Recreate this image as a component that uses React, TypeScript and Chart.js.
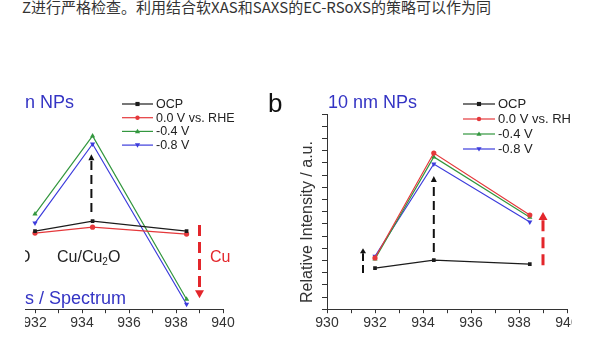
import React, { useEffect, useRef } from 'react';
import { Chart, registerables } from 'chart.js';

Chart.register(...registerables);

const FONT = 'Arial, "Liberation Sans", Helvetica, sans-serif';

// ---- data ----
const energies = [932, 934.45, 938.45];
const seriesLabels = ['OCP', '0.0 V vs. RHE', '-0.4 V', '-0.8 V'];

const aOCP = [3.2, 3.61, 3.2];
const a00V = [3.12, 3.36, 3.08];
const a04V = [3.9, 7.1, 0.41];
const a08V = [3.53, 6.77, 0.2];

const bOCP = [1.68, 2.01, 1.85];
const b00V = [2.1, 6.4, 3.86];
const b04V = [2.06, 6.24, 3.77];
const b08V = [2.17, 5.95, 3.57];

const xMin = 930;
const xMax = 940;
const xLabeled = [930, 932, 934, 936, 938, 940];
const yMin = 0;
const yMax = 8;

// annotation arrows (data coordinates)
const arrowXA = [934.4, 939.0];
const arrowFromA = [3.98, 3.45];
const arrowToA = [6.35, 0.45];
const arrowKindA = ['black', 'red'];

const arrowXB = [931.5, 934.45, 939.0];
const arrowFromB = [1.48, 2.34, 1.8];
const arrowToB = [2.5, 5.46, 3.98];
const arrowKindB = ['blackSmall', 'black', 'red'];

// ---- styles ----
const seriesColors = ['#1c1c1c', '#e5383b', '#33973f', '#3c3cdc'];
const seriesPoint = ['rect', 'circle', 'triangle', 'triangle'];
const seriesRot = [0, 0, 0, 180];
const arrowStyles: Record<string, any> = {
  black: { color: '#111', width: 2, dash: [9, 5], head: 6, half: 3 },
  blackSmall: { color: '#111', width: 2, dash: [8, 4], head: 5, half: 3 },
  red: { color: '#e3262b', width: 3, dash: [11, 6], head: 8, half: 4.5 },
};
const BLUE = '#3434c4';

function drawMarker(ctx: CanvasRenderingContext2D, style: string, rot: number, x: number, y: number, r: number, color: string) {
  ctx.fillStyle = color;
  ctx.beginPath();
  if (style === 'rect') {
    ctx.rect(x - r * 0.8, y - r * 0.8, r * 1.6, r * 1.6);
  } else if (style === 'circle') {
    ctx.arc(x, y, r * 0.85, 0, Math.PI * 2);
  } else {
    const s = rot === 180 ? -1 : 1;
    ctx.moveTo(x, y - s * r);
    ctx.lineTo(x - r, y + s * r * 0.7);
    ctx.lineTo(x + r, y + s * r * 0.7);
    ctx.closePath();
  }
  ctx.fill();
}

const lineLegendPlugin = {
  id: 'lineLegend',
  afterDraw(chart: any, _args: any, opts: any) {
    if (!opts || opts.x1 === undefined) return;
    const ctx = chart.ctx as CanvasRenderingContext2D;
    ctx.save();
    chart.data.datasets.forEach((ds: any, i: number) => {
      const y = opts.y0 + i * opts.dy;
      ctx.strokeStyle = ds.borderColor;
      ctx.lineWidth = 1.2;
      ctx.beginPath();
      ctx.moveTo(opts.x1, y);
      ctx.lineTo(opts.x2, y);
      ctx.stroke();
      drawMarker(ctx, ds.pointStyle, ds.pointRotation, (opts.x1 + opts.x2) / 2, y, 2.6, ds.borderColor);
      ctx.fillStyle = '#222';
      ctx.font = opts.font;
      ctx.textBaseline = 'middle';
      ctx.textAlign = 'left';
      ctx.fillText(ds.label, opts.x2 + 3, y + 0.5);
    });
    ctx.restore();
  },
};

const arrowPlugin = {
  id: 'arrows',
  afterDatasetsDraw(chart: any, _args: any, opts: any) {
    if (!opts || !opts.xs) return;
    const ctx = chart.ctx as CanvasRenderingContext2D;
    const xs = chart.scales.x;
    const ys = chart.scales.y;
    ctx.save();
    opts.xs.forEach((xv: number, i: number) => {
      const st = arrowStyles[opts.kinds[i]];
      const px = xs.getPixelForValue(xv);
      const p0 = ys.getPixelForValue(opts.from[i]);
      const p1 = ys.getPixelForValue(opts.to[i]);
      const dir = Math.sign(p1 - p0);
      const base = p1 - dir * st.head;
      ctx.strokeStyle = st.color;
      ctx.lineWidth = st.width;
      ctx.setLineDash(st.dash);
      ctx.beginPath();
      ctx.moveTo(px, p0);
      ctx.lineTo(px, base);
      ctx.stroke();
      ctx.setLineDash([]);
      ctx.fillStyle = st.color;
      ctx.beginPath();
      ctx.moveTo(px, p1);
      ctx.lineTo(px - st.half, base);
      ctx.lineTo(px + st.half, base);
      ctx.closePath();
      ctx.fill();
    });
    ctx.restore();
  },
};

function makeDatasets(series: number[][]) {
  return series.map((vals, i) => ({
    label: seriesLabels[i],
    data: energies.map((e, k) => ({ x: e, y: vals[k] })),
    borderColor: seriesColors[i],
    backgroundColor: seriesColors[i],
    borderWidth: 1.2,
    pointStyle: seriesPoint[i],
    pointRotation: seriesRot[i],
    pointRadius: seriesPoint[i] === 'triangle' ? 3 : 2.6,
    pointBorderWidth: 0,
    tension: 0,
  }));
}

function xScale() {
  return {
    type: 'linear',
    min: xMin,
    max: xMax,
    ticks: {
      stepSize: 1,
      autoSkip: false,
      maxRotation: 0,
      padding: 2,
      color: '#333',
      font: { family: FONT, size: 14 },
      callback: (v: any) => (xLabeled.includes(Math.round(v)) && Math.abs(v - Math.round(v)) < 1e-6 ? String(Math.round(v)) : ''),
    },
    grid: { drawOnChartArea: false, drawTicks: true, tickLength: 4, tickColor: '#333', tickWidth: 1 },
    border: { display: true, color: '#333', width: 1 },
  };
}

export default function App() {
  const refA = useRef<HTMLCanvasElement>(null);
  const refB = useRef<HTMLCanvasElement>(null);

  useEffect(() => {
    const chartA = new Chart(refA.current as HTMLCanvasElement, {
      type: 'line',
      data: { datasets: makeDatasets([aOCP, a00V, a04V, a08V]) as any },
      plugins: [lineLegendPlugin, arrowPlugin],
      options: {
        responsive: false,
        animation: false,
        devicePixelRatio: 1,
        layout: { padding: { left: 48, right: 37, top: 114, bottom: 4 } },
        scales: {
          x: xScale() as any,
          y: { display: false, min: yMin, max: yMax },
        },
        plugins: {
          legend: { display: false },
          tooltip: { enabled: false },
          lineLegend: { x1: 182, x2: 213, y0: 104, dy: 13.7, font: `12.5px ${FONT}` },
          arrows: { xs: arrowXA, from: arrowFromA, to: arrowToA, kinds: arrowKindA },
        } as any,
      },
    });
    const chartB = new Chart(refB.current as HTMLCanvasElement, {
      type: 'line',
      data: { datasets: makeDatasets([bOCP, b00V, b04V, b08V]) as any },
      plugins: [lineLegendPlugin, arrowPlugin],
      options: {
        responsive: false,
        animation: false,
        devicePixelRatio: 1,
        layout: { padding: { left: 52, right: 33, top: 114, bottom: 4 } },
        scales: {
          x: xScale() as any,
          y: {
            min: yMin,
            max: yMax,
            ticks: { display: false, stepSize: 0.5 },
            grid: { drawOnChartArea: false, drawTicks: true, tickLength: 5, tickColor: '#333' },
            border: { display: true, color: '#333', width: 1 },
          },
        },
        plugins: {
          legend: { display: false },
          tooltip: { enabled: false },
          lineLegend: { x1: 193, x2: 225, y0: 104, dy: 15, font: `13px ${FONT}` },
          arrows: { xs: arrowXB, from: arrowFromB, to: arrowToB, kinds: arrowKindB },
        } as any,
      },
    });
    return () => {
      chartA.destroy();
      chartB.destroy();
    };
  }, []);

  const abs = (extra: React.CSSProperties): React.CSSProperties => ({
    position: 'absolute',
    whiteSpace: 'nowrap',
    fontFamily: FONT,
    ...extra,
  });

  return (
    <div style={{ position: 'absolute', left: 0, top: 0, width: 600, height: 338, background: '#fff', overflow: 'hidden' }}>
      <div
        style={abs({
          left: 22,
          top: -1,
          fontFamily: '"Noto Sans CJK SC", sans-serif',
          fontSize: 15,
          lineHeight: '15px',
          color: '#333',
        })}
      >
        Z进行严格检查。利用结合软XAS和SAXS的EC-RSoXS的策略可以作为同
      </div>

      <div style={{ position: 'absolute', left: 25, top: 0, width: 245, height: 338, overflow: 'hidden' }}>
        <canvas ref={refA} width={320} height={338} style={{ position: 'absolute', left: -85, top: 0 }} />
        <div style={abs({ left: 0, top: 90, fontSize: 18, lineHeight: '24px', color: BLUE })}>n NPs</div>
        <div style={abs({ left: 0, top: 286, fontSize: 18, lineHeight: '24px', color: BLUE })}>s / Spectrum</div>
        <div style={abs({ right: 239.5, top: 245, fontSize: 16, lineHeight: '24px', color: '#222' })}>CuO</div>
        <div style={abs({ left: 32, top: 245, fontSize: 16, lineHeight: '24px', color: '#222' })}>
          Cu/Cu<sub style={{ fontSize: 10, verticalAlign: '-3px' }}>2</sub>O
        </div>
        <div style={abs({ left: 185, top: 245, fontSize: 16, lineHeight: '24px', color: '#e3262b' })}>Cu</div>
      </div>

      <div style={{ position: 'absolute', left: 270, top: 0, width: 302, height: 338, overflow: 'hidden' }}>
        <canvas ref={refB} width={330} height={338} style={{ position: 'absolute', left: 0, top: 0 }} />
      </div>
      <div style={abs({ left: 268, top: 87.5, fontSize: 26, lineHeight: '30px', color: '#111' })}>b</div>
      <div style={abs({ left: 328, top: 89.5, fontSize: 18, lineHeight: '24px', color: BLUE })}>10 nm NPs</div>
      <div
        style={abs({
          left: 197,
          top: 211.5,
          width: 220,
          height: 20,
          lineHeight: '20px',
          fontSize: 16,
          color: '#333',
          textAlign: 'center',
          transform: 'rotate(-90deg)',
        })}
      >
        Relative Intensity / a.u.
      </div>
    </div>
  );
}
